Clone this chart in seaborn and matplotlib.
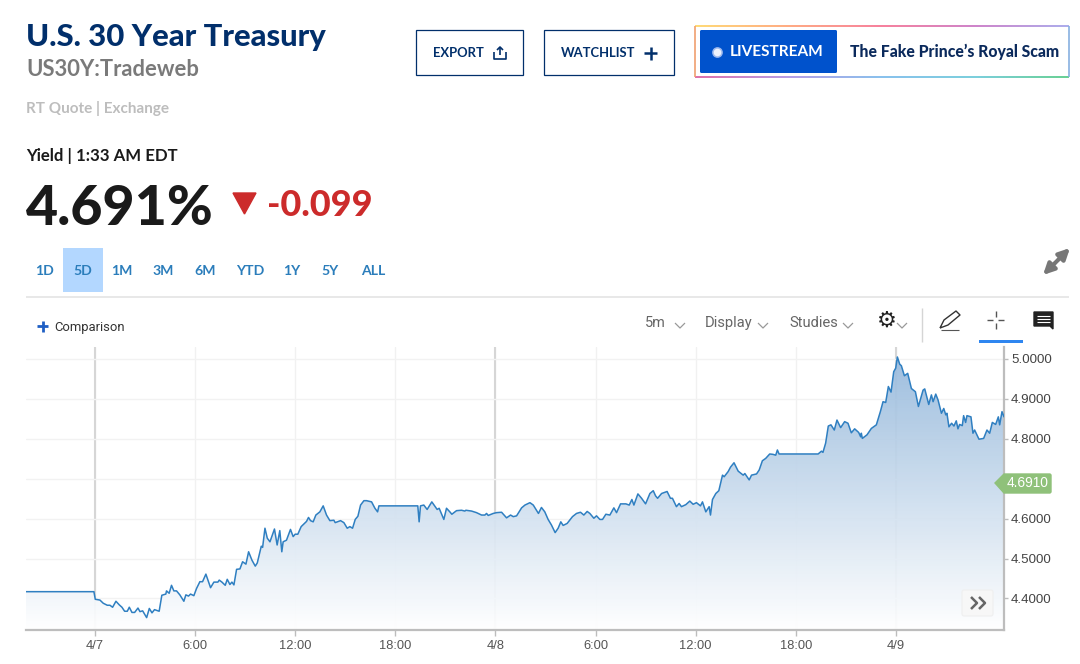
import numpy as np
import pandas as pd
import seaborn as sns
import matplotlib.pyplot as plt
from matplotlib.collections import LineCollection
from matplotlib.colors import to_rgb
from matplotlib.patches import FancyBboxPatch, Polygon, Rectangle

# data: hours since 4/7 00:00 and yield
hours = [
    -4.13, -0.06, 0.02, 0.30, 0.50, 0.74, 0.90, 1.06, 1.26, 1.46, 1.62, 1.78, 1.94, 2.06, 2.22, 2.38,
    2.58, 2.70, 2.86, 3.10, 3.26, 3.42, 3.57, 3.85, 4.01, 4.25, 4.29, 4.45, 4.59, 4.73, 4.89, 5.09,
    5.33, 5.45, 5.61, 5.73, 5.93, 6.09, 6.29, 6.45, 6.65, 6.93, 7.13, 7.37, 7.45, 7.61, 7.81, 7.93,
    8.09, 8.21, 8.33, 8.49, 8.69, 8.85, 9.05, 9.21, 9.41, 9.61, 9.73, 9.97, 10.05, 10.19, 10.33, 10.49,
    10.76, 10.92, 11.08, 11.20, 11.28, 11.48, 11.72, 11.88, 12.00, 12.16, 12.36, 12.68, 12.80, 12.92, 13.08, 13.24,
    13.48, 13.68, 13.88, 14.08, 14.32, 14.40, 14.72, 14.92, 15.12, 15.28, 15.44, 15.60, 15.76, 15.92, 16.12, 16.28,
    16.58, 16.78, 16.94, 17.02, 19.35, 19.43, 19.51, 19.71, 19.91, 20.19, 20.39, 20.51, 20.63, 20.91, 21.07, 21.27,
    21.39, 21.67, 21.97, 22.17, 22.23, 22.57, 22.87, 23.17, 23.37, 23.47, 23.57, 23.87, 24.07, 24.37, 24.67, 24.91,
    25.07, 25.27, 25.57, 25.77, 26.07, 26.27, 26.58, 26.76, 26.96, 27.16, 27.36, 27.58, 27.76, 27.92, 28.06, 28.30,
    28.62, 28.86, 29.10, 29.30, 29.50, 29.66, 29.90, 30.06, 30.26, 30.42, 30.62, 30.86, 31.10, 31.26, 31.50, 31.82,
    32.02, 32.18, 32.30, 32.54, 32.76, 33.00, 33.26, 33.46, 33.60, 33.72, 33.96, 34.29, 34.49, 34.61, 34.85, 35.01,
    35.15, 35.41, 35.65, 35.85, 36.05, 36.29, 36.41, 36.61, 36.81, 36.89, 37.01, 37.21, 37.39, 37.61, 37.71, 37.95,
    38.09, 38.30, 38.55, 38.85, 38.95, 39.21, 39.35, 39.65, 39.81, 40.00, 40.20, 40.44, 40.64, 40.80, 40.90, 41.00,
    43.34, 43.54, 43.63, 43.79, 43.95, 44.11, 44.31, 44.47, 44.69, 44.93, 45.13, 45.33, 45.53, 45.77, 45.89, 45.93,
    45.99, 46.27, 46.53, 46.83, 47.07, 47.23, 47.39, 47.55, 47.71, 47.87, 47.99, 48.09, 48.23, 48.33, 48.51, 48.71,
    48.93, 49.17, 49.35, 49.63, 49.73, 49.97, 50.13, 50.23, 50.39, 50.53, 50.73, 50.87, 50.99, 51.06, 51.18, 51.34,
    51.48, 51.62, 51.72, 51.82, 51.98, 52.06, 52.18, 52.26, 52.50, 52.62, 52.72, 52.98, 53.26, 53.46, 53.62, 53.78,
    53.98, 54.14, 54.22, 54.36, 54.48,
]
yields = [
    4.417, 4.417, 4.398, 4.396, 4.388, 4.383, 4.383, 4.378, 4.393, 4.384, 4.378, 4.368, 4.368, 4.378, 4.365, 4.365,
    4.376, 4.367, 4.369, 4.352, 4.375, 4.364, 4.372, 4.368, 4.408, 4.411, 4.419, 4.413, 4.433, 4.419, 4.419, 4.409,
    4.393, 4.409, 4.406, 4.411, 4.407, 4.425, 4.442, 4.442, 4.461, 4.427, 4.441, 4.441, 4.446, 4.441, 4.433, 4.448,
    4.435, 4.441, 4.434, 4.473, 4.474, 4.492, 4.486, 4.517, 4.496, 4.481, 4.489, 4.531, 4.528, 4.576, 4.551, 4.542,
    4.574, 4.534, 4.570, 4.517, 4.542, 4.546, 4.573, 4.555, 4.561, 4.561, 4.580, 4.593, 4.603, 4.595, 4.592, 4.609,
    4.617, 4.632, 4.609, 4.595, 4.596, 4.590, 4.595, 4.590, 4.576, 4.580, 4.576, 4.598, 4.606, 4.634, 4.645, 4.645,
    4.642, 4.626, 4.617, 4.632, 4.632, 4.592, 4.632, 4.634, 4.623, 4.642, 4.630, 4.623, 4.626, 4.598, 4.626, 4.617,
    4.611, 4.620, 4.621, 4.619, 4.621, 4.619, 4.615, 4.609, 4.609, 4.613, 4.608, 4.613, 4.615, 4.616, 4.602, 4.609,
    4.605, 4.607, 4.627, 4.634, 4.640, 4.634, 4.613, 4.628, 4.617, 4.598, 4.584, 4.565, 4.576, 4.592, 4.583, 4.588,
    4.605, 4.613, 4.616, 4.609, 4.618, 4.613, 4.601, 4.607, 4.598, 4.598, 4.611, 4.609, 4.627, 4.615, 4.637, 4.637,
    4.634, 4.648, 4.634, 4.662, 4.651, 4.637, 4.663, 4.670, 4.657, 4.651, 4.663, 4.668, 4.651, 4.651, 4.630, 4.638,
    4.630, 4.635, 4.644, 4.636, 4.640, 4.632, 4.642, 4.617, 4.630, 4.609, 4.648, 4.663, 4.670, 4.709, 4.705, 4.718,
    4.729, 4.740, 4.719, 4.709, 4.713, 4.697, 4.709, 4.712, 4.722, 4.745, 4.751, 4.762, 4.761, 4.759, 4.772, 4.762,
    4.762, 4.769, 4.766, 4.789, 4.832, 4.835, 4.822, 4.847, 4.828, 4.843, 4.839, 4.815, 4.825, 4.816, 4.805, 4.814,
    4.801, 4.810, 4.826, 4.835, 4.868, 4.893, 4.891, 4.931, 4.917, 4.968, 4.977, 5.005, 4.987, 4.983, 4.958, 4.964,
    4.926, 4.918, 4.881, 4.922, 4.925, 4.886, 4.910, 4.893, 4.912, 4.897, 4.864, 4.876, 4.860, 4.864, 4.830, 4.839,
    4.832, 4.845, 4.825, 4.836, 4.833, 4.858, 4.841, 4.858, 4.855, 4.814, 4.822, 4.799, 4.801, 4.822, 4.814, 4.841,
    4.836, 4.855, 4.835, 4.868, 4.855,
]
x_ticks = [0, 6, 12, 18, 24, 30, 36, 42, 48]
x_labels = ['4/7', '6:00', '12:00', '18:00', '4/8', '6:00', '12:00', '18:00', '4/9']
day_ticks = [0, 24, 48]
y_ticks = [4.4, 4.5, 4.6, 4.7, 4.8, 4.9, 5.0]
y_labels = ['4.4000', '4.5000', '4.6000', '', '4.8000', '4.9000', '5.0000']
ranges = ['1D', '5D', '1M', '3M', '6M', 'YTD', '1Y', '5Y', 'ALL']

NAVY = '#012f6b'
DARK = '#1a1a1a'
BLUE = '#2b7dbb'
LINE = '#2f7fc1'
AXIS = '#bdbdbd'
W, H = 1080, 664

sns.set_style('white')
plt.rcParams['font.family'] = ['Lato', 'DejaVu Sans']

fig = plt.figure(figsize=(W / 100, H / 100), dpi=100)


def px_rect(left, top, right, bottom):
    return [left / W, 1 - bottom / H, (right - left) / W, (bottom - top) / H]


# chart
ax = fig.add_axes(px_rect(26, 347, 1004, 630))
df = pd.DataFrame({'hour': hours, 'yield': yields})
x_min, x_max = -4.13, 54.48
y_min, y_max = 4.321, 5.030

for t in x_ticks:
    ax.axvline(t, color='#f1f1f1', lw=1, zorder=0)
for t in day_ticks:
    ax.axvline(t, color='#d6d6d6', lw=1.5, zorder=0)
for t in y_ticks:
    ax.axhline(t, color='#f2f2f2', lw=1, zorder=0)

# vertical gradient under the line, clipped to the area below it
fill = ax.fill_between(df['hour'], df['yield'], y_min, color='none', zorder=1)
top_col = np.array([0.58, 0.72, 0.86])
bot_col = np.array([1.0, 1.0, 1.0])
grad = np.linspace(0, 1, 256)[:, None, None]
img = top_col + (bot_col - top_col) * grad
im = ax.imshow(img, extent=[x_min, x_max, y_min, y_max], aspect='auto', zorder=1,
               origin='upper', alpha=0.93)
im.set_clip_path(fill.get_paths()[0], transform=ax.transData)

sns.lineplot(data=df, x='hour', y='yield', ax=ax, color=LINE, lw=1.1, zorder=3, errorbar=None, estimator=None)

ax.set_xlim(x_min, x_max)
ax.set_ylim(y_min, y_max)
ax.set_xlabel('')
ax.set_ylabel('')
ax.set_xticks(x_ticks)
ax.set_xticklabels(x_labels, family='Liberation Sans', fontsize=9.3, color='#555555')
ax.yaxis.tick_right()
ax.set_yticks(y_ticks)
ax.set_yticklabels(y_labels, family='Liberation Sans', fontsize=9.6, color='#444444')
ax.tick_params(axis='x', length=4, width=1, color=AXIS, pad=3, bottom=True)
ax.tick_params(axis='y', length=3, width=1, color=AXIS, pad=2, right=True, left=False)
for side in ['top', 'left']:
    ax.spines[side].set_visible(False)
for side in ['right', 'bottom']:
    ax.spines[side].set_color(AXIS)
    ax.spines[side].set_linewidth(1.6)

# page furniture, in pixel coordinates
ui = fig.add_axes([0, 0, 1, 1], facecolor='none')
ui.set_xlim(0, W)
ui.set_ylim(H, 0)
ui.axis('off')


def label(x, y, s, size, color=DARK, weight='normal', family='Lato', ha='left'):
    # size is in pixels
    ui.text(x, y + 1, s, fontsize=size * 0.72, color=color, fontweight=weight, family=family,
            ha=ha, va='center')


def seg(xs, ys, color='#555555', lw=1.0):
    ui.plot(xs, ys, color=color, lw=lw, solid_capstyle='butt')


label(26, 36, 'U.S. 30 Year Treasury', 31, NAVY, 'black')
label(26, 69, 'US30Y:Tradeweb', 22, '#7a7a7a', 'bold')
label(26, 108, 'RT Quote | Exchange', 15.2, '#bdbdbd', 'bold')
label(26, 155, 'Yield | 1:33 AM EDT', 16.7, DARK, 'bold')
label(26, 208, '4.691%', 55.5, DARK, 'black')
ui.add_patch(Polygon([(233, 193), (256, 193), (244.5, 214)], color='#cc2b2b'))
label(267, 205, '-0.099', 36, '#cc2b2b', 'black')

# buttons
ui.add_patch(Rectangle((416, 30), 107, 45, fc='white', ec=NAVY, lw=0.9))
label(433, 52, 'EXPORT', 13, NAVY, 'bold')
seg([494, 494, 506, 506], [52, 59, 59, 52], NAVY, 1.2)
seg([500, 500], [47, 55], NAVY, 1.2)
seg([497, 500, 503], [50, 47, 50], NAVY, 1.2)

ui.add_patch(Rectangle((544, 30), 130, 45, fc='white', ec=NAVY, lw=0.9))
label(561, 52, 'WATCHLIST', 13, NAVY, 'bold')
seg([644, 657], [53, 53], NAVY, 1.8)
seg([650.5, 650.5], [46.5, 59.5], NAVY, 1.8)

# rainbow border of the livestream box
box_l, box_r, box_t, box_b = 695, 1069, 26, 77
n = 120
xs = np.linspace(box_l, box_r, n)
rain = ['#ffd35c', '#ff9a6b', '#f5688a', '#c56cc0', '#9d9de8']
rain_b = ['#d9559a', '#a78be0', '#72b5ea', '#62c6d6', '#4cc77f']
for edge_y, cols in [(box_t, rain), (box_b, rain_b)]:
    c = np.array([to_rgb(k) for k in cols])
    pos = np.linspace(0, 1, len(cols))
    t = np.linspace(0, 1, n - 1)
    seg_cols = np.column_stack([np.interp(t, pos, c[:, i]) for i in range(3)])
    pts = np.column_stack([xs, np.full(n, edge_y)])
    ui.add_collection(LineCollection(np.stack([pts[:-1], pts[1:]], axis=1), colors=seg_cols, lw=1.2))
seg([box_l, box_l], [box_t, box_b], '#f0a070', 1.2)
seg([box_r, box_r], [box_t, box_b], '#88b0e0', 1.2)
ui.add_patch(FancyBboxPatch((700, 30), 137, 43, boxstyle='round,pad=0,rounding_size=1.5', fc='#0052cc', ec='none'))
ui.scatter([717], [52], s=60, color='#9db9ee', zorder=5, linewidths=0)
ui.scatter([717], [52], s=30, color='#eef3fd', zorder=6, linewidths=0)
label(730, 51, 'LIVESTREAM', 15.4, 'white', 'bold')
label(850, 51, 'The Fake Prince\u2019s Royal Scam', 15.7, '#0b2a5c', 'black')

# range row
ui.add_patch(Rectangle((63, 248), 40, 44, fc='#b3d7ff', ec='none'))
range_x = [44, 83, 122, 163, 205, 250, 292, 330, 373]
for rx, r in zip(range_x, ranges):
    label(rx, 270, r, 14, BLUE, 'bold', ha='center')
seg([26, 1069], [297, 297], '#e6e6e6', 1.3)

# expand arrows
ui.annotate('', xy=(1043, 275), xytext=(1056, 262),
            arrowprops=dict(arrowstyle='-|>', color='#777777', lw=3, mutation_scale=16, shrinkA=0, shrinkB=0))
ui.annotate('', xy=(1070, 248), xytext=(1057, 261),
            arrowprops=dict(arrowstyle='-|>', color='#777777', lw=3, mutation_scale=16, shrinkA=0, shrinkB=0))

# toolbar
seg([37, 48], [326, 326], '#1f5fc4', 2)
seg([42.5, 42.5], [320.5, 331.5], '#1f5fc4', 2)
label(54, 326, 'Comparison', 13, '#333333', family='Roboto')


def chevron(x, y):
    seg([x - 5, x, x + 5], [y - 3, y + 2, y - 3], '#999999', 0.9)


label(645, 322, '5m', 14.5, '#666666', family='Roboto')
chevron(680, 326)
label(705, 322, 'Display', 14.8, '#666666', family='Roboto')
chevron(763, 326)
label(789, 322, 'Studies', 14.8, '#666666', family='Roboto')
chevron(848, 326)
ui.text(887, 321, '\u2699', fontsize=16, color='#222222', family='DejaVu Sans', ha='center', va='center',
        fontweight='bold')
chevron(902, 326)
seg([922, 922], [308, 342], '#d5d5d5', 1)

# pencil
seg([940, 944, 956, 960, 948, 940], [328, 320, 311, 315, 325, 328], '#333333', 1)
seg([941, 959], [330, 330], '#555555', 0.8)
# crosshair
seg([987, 993], [320, 320], '#555555', 1)
seg([998, 1004], [320, 320], '#555555', 1)
seg([995.5, 995.5], [311, 317], '#555555', 1)
seg([995.5, 995.5], [323, 329], '#555555', 1)
ui.add_patch(Rectangle((979, 340), 44, 3, fc='#2f86f0', ec='none'))
# message icon
ui.add_patch(Polygon([(1034, 312), (1053, 312), (1053, 329), (1050, 326), (1034, 326)], color='#222222'))
for my in [316, 319, 322]:
    seg([1037, 1050], [my, my], 'white', 0.8)

# last price tag
ui.add_patch(Polygon([(995, 483), (1004, 474), (1050, 474), (1051, 475), (1051, 492),
                      (1050, 493), (1004, 493)], color='#8fc17a'))
label(1007, 482, '4.6910', 13.7, 'white', family='Liberation Sans')

# scroll button
ui.add_patch(FancyBboxPatch((962, 590), 31, 26, boxstyle='round,pad=0,rounding_size=2', fc='#f7f7f7', ec='#efefef', lw=0.8))
seg([971, 977, 971], [597, 603, 609], '#666666', 1.8)
seg([979, 985, 979], [597, 603, 609], '#666666', 1.8)

fig.savefig('out.png', dpi=100)
